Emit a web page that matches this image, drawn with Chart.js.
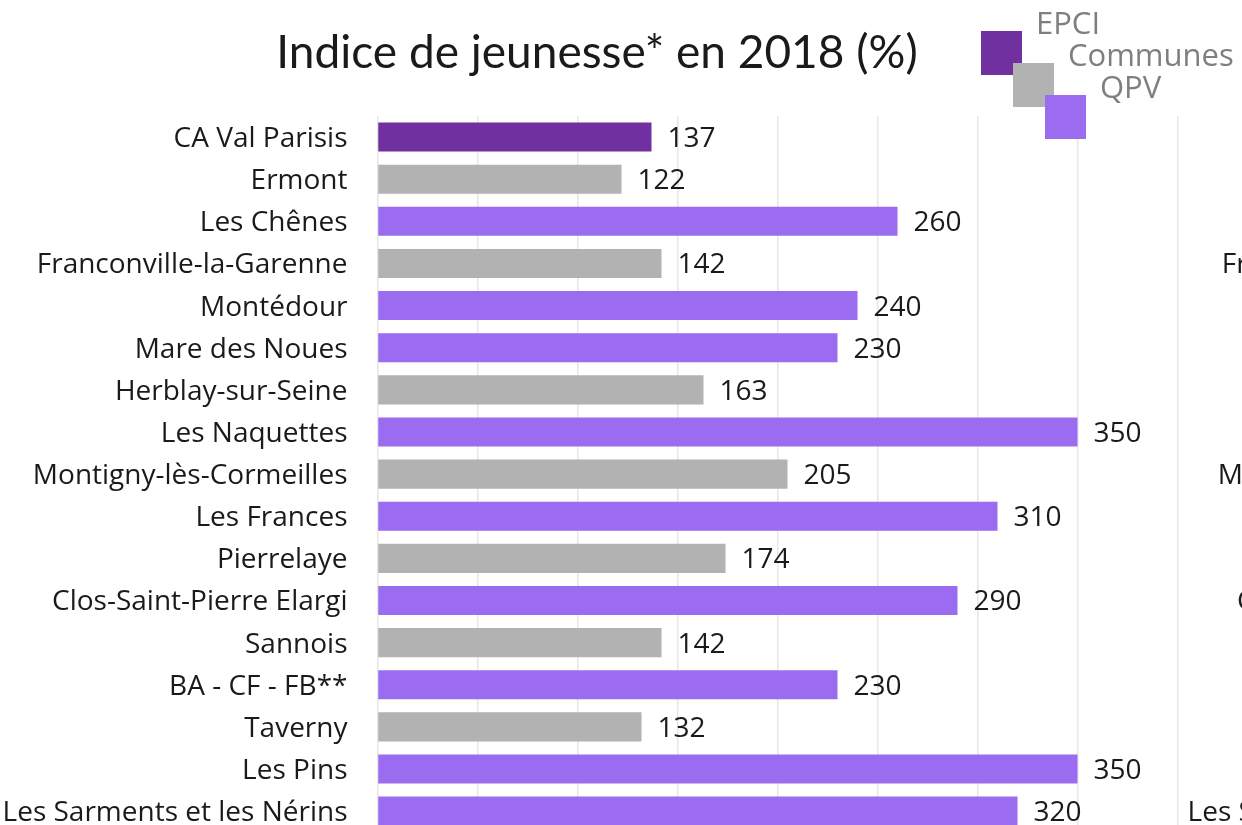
<!DOCTYPE html>
<html>
<head>
<meta charset="utf-8">
<script src="https://cdn.jsdelivr.net/npm/chart.js@4.4.1/dist/chart.umd.min.js"></script>
<style>
html,body{margin:0;padding:0;background:#fff;overflow:hidden;width:1242px;height:825px;}
#wrap{position:relative;width:1242px;height:825px;overflow:hidden;}
#c1{position:absolute;left:0;top:0;}
#c2{position:absolute;left:1185px;top:0;}
</style>
</head>
<body>
<div id="wrap">
<canvas id="c1" width="1242" height="879"></canvas>
<canvas id="c2" width="1185" height="879"></canvas>
</div>
<script>
const title = "Indice de jeunesse* en 2018 (%)";
const categories = ["CA Val Parisis","Ermont","Les Chênes","Franconville-la-Garenne","Montédour","Mare des Noues","Herblay-sur-Seine","Les Naquettes","Montigny-lès-Cormeilles","Les Frances","Pierrelaye","Clos-Saint-Pierre Elargi","Sannois","BA - CF - FB**","Taverny","Les Pins","Les Sarments et les Nérins"];
const values = [137,122,260,142,240,230,163,350,205,310,174,290,142,230,132,350,320];
const types = ["EPCI","Communes","QPV","Communes","QPV","QPV","Communes","QPV","Communes","QPV","Communes","QPV","Communes","QPV","Communes","QPV","QPV"];
const seriesNames = ["EPCI","Communes","QPV"];
const seriesColors = ["#7030A0","#B2B2B2","#9B6BF0"];
const xTicks = [0,50,100,150,200,250,300,350,400];

const FONT = "'Open Sans', sans-serif";
const TFONT = "Lato, 'Open Sans', sans-serif";
const LABEL_SIZE = 28;

const datasets = seriesNames.map((name,i)=>({
  label: name,
  data: values.map((v,j)=> types[j]===name ? v : null),
  backgroundColor: seriesColors[i],
  borderWidth: 0,
  grouped: false,
  categoryPercentage: 1,
  barPercentage: 0.69
}));

const valueLabels = {
  id:'valueLabels',
  afterDatasetsDraw(chart){
    const ctx = chart.ctx;
    ctx.save();
    ctx.font = LABEL_SIZE + "px " + FONT;
    ctx.fillStyle = "#1a1a1a";
    ctx.textAlign = "left";
    ctx.textBaseline = "middle";
    chart.data.datasets.forEach((ds,di)=>{
      const meta = chart.getDatasetMeta(di);
      meta.data.forEach((el,i)=>{
        const v = ds.data[i];
        if(v===null || v===undefined) return;
        ctx.fillText(String(v), el.x + 16, el.y + 2);
      });
    });
    ctx.restore();
  }
};

const titleLegend = {
  id:'titleLegend',
  afterDraw(chart){
    const ctx = chart.ctx;
    ctx.save();
    ctx.font = "46px " + TFONT;
    ctx.fillStyle = "#1a1a1a";
    ctx.textAlign = "center";
    ctx.textBaseline = "alphabetic";
    ctx.fillText(title, 597, 68);
    // staggered legend
    ctx.font = "31px " + FONT;
    ctx.textAlign = "left";
    ctx.textBaseline = "middle";
    seriesNames.forEach((n,i)=>{
      const x = 981 + i*32, y = 31 + i*32;
      ctx.fillStyle = seriesColors[i];
      ctx.fillRect(x, y, 41, 44);
      ctx.fillStyle = "#7f7f7f";
      ctx.fillText(n, x + 55, y - 6);
    });
    ctx.restore();
  }
};

function makeOptions(rightPad){
  return {
    indexAxis:'y',
    responsive:false,
    animation:false,
    layout:{padding:{top:116,right:rightPad,bottom:11,left:0}},
    plugins:{legend:{display:false},title:{display:false},tooltip:{enabled:false}},
    scales:{
      x:{
        min:xTicks[0], max:xTicks[xTicks.length-1],
        afterBuildTicks(s){ s.ticks = xTicks.map(v=>({value:v})); },
        ticks:{display:false},
        grid:{color:"#e6e6e6", lineWidth:1.5, drawTicks:false},
        border:{display:false},
        afterFit(s){ s.height = 0; }
      },
      y:{
        ticks:{color:"#1a1a1a", font:{family:FONT, size:LABEL_SIZE}, padding:30, autoSkip:false, labelOffset:2},
        grid:{display:false, drawTicks:false},
        border:{display:false},
        afterFit(s){ s.width = 377.5; }
      }
    }
  };
}

new Chart(document.getElementById('c1'), {
  type:'bar',
  data:{labels:categories, datasets:datasets},
  options:makeOptions(64.5),
  plugins:[valueLabels,titleLegend]
});

// neighbouring chart (cut off at the right edge): only its category labels are visible
new Chart(document.getElementById('c2'), {
  type:'bar',
  data:{labels:categories, datasets:[]},
  options:makeOptions(7.5)
});
</script>
</body>
</html>
